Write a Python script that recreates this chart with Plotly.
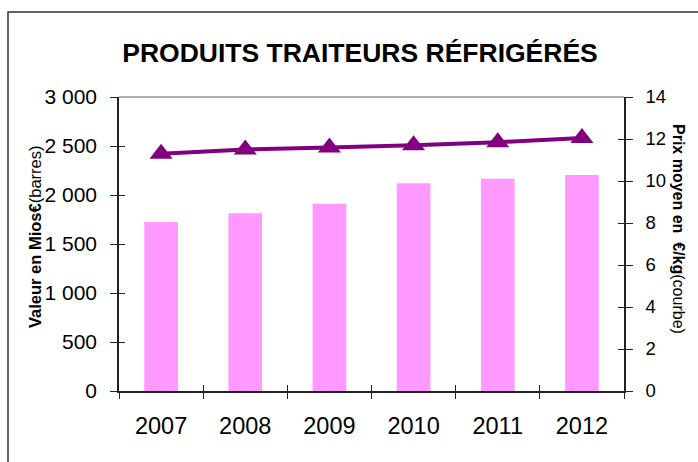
import plotly.graph_objects as go

years = ["2007", "2008", "2009", "2010", "2011", "2012"]
valeur = [1725, 1815, 1910, 2120, 2165, 2205]
prix = [11.3, 11.5, 11.6, 11.7, 11.85, 12.05]
left_ticks = [0, 500, 1000, 1500, 2000, 2500, 3000]
left_labels = ["0", "500", "1 000", "1 500", "2 000", "2 500", "3 000"]
right_ticks = [0, 2, 4, 6, 8, 10, 12, 14]

FONT = "Liberation Sans, Arial, sans-serif"
W, H = 698, 462
L, R, T, B = 119, 74, 97, 71
pw, ph = W - L - R, H - T - B

def px(xp):
    return (xp - L) / pw

def py(yp):
    return (H - B - yp) / ph

fig = go.Figure()
fig.add_trace(go.Bar(x=years, y=valeur, marker=dict(color="#FF99FF", line_width=0),
                     width=0.4, xaxis="x", yaxis="y", showlegend=False))
fig.add_trace(go.Scatter(x=years, y=prix, mode="lines+markers", xaxis="x", yaxis="y2",
                         line=dict(color="#800080", width=4),
                         marker=dict(symbol="triangle-up", size=20, color="#800080"),
                         showlegend=False))
# invisible helper traces for inner tick marks
fig.add_trace(go.Scatter(x=years, y=[0] * 6, xaxis="x2", yaxis="y3", mode="markers",
                         marker=dict(opacity=0), hoverinfo="skip", showlegend=False))
fig.add_trace(go.Scatter(x=years, y=[0] * 6, xaxis="x2", yaxis="y4", mode="markers",
                         marker=dict(opacity=0), hoverinfo="skip", showlegend=False))

axis_col = "#222222"
fig.update_layout(
    width=W, height=H,
    margin=dict(l=L, r=R, t=T, b=B),
    paper_bgcolor="white", plot_bgcolor="white",
    font=dict(family=FONT, color="black"),
    title=dict(text="<b>PRODUITS TRAITEURS RÉFRIGÉRÉS</b>", x=360 / W, xanchor="center",
               y=1 - 53 / H, yanchor="middle", font=dict(size=26.5, family=FONT)),
    xaxis=dict(type="category", categoryarray=years, range=[-0.5, 5.5],
               showline=True, linecolor=axis_col, linewidth=1.5,
               ticks="outside", ticklen=6, tickcolor=axis_col, tickson="boundaries",
               tickfont=dict(size=23.5), ticklabelstandoff=13, showgrid=False, zeroline=False),
    xaxis2=dict(type="category", categoryarray=years, range=[-0.5, 5.5], overlaying="x",
                anchor="y3", showline=False, ticks="inside", ticklen=6, tickcolor=axis_col,
                tickson="boundaries", showticklabels=False, showgrid=False, zeroline=False),
    yaxis=dict(range=[0, 3000], tickvals=left_ticks, ticktext=left_labels,
               showline=True, linecolor=axis_col, linewidth=1.5,
               ticks="outside", ticklen=7, tickcolor=axis_col,
               tickfont=dict(size=21), ticklabelstandoff=9, showgrid=False, zeroline=False),
    yaxis2=dict(range=[0, 14], tickvals=right_ticks, overlaying="y", side="right",
                showline=True, linecolor=axis_col, linewidth=1.5,
                ticks="outside", ticklen=7, tickcolor=axis_col,
                tickfont=dict(size=18.5), ticklabelstandoff=9, showgrid=False, zeroline=False),
    yaxis3=dict(range=[0, 3000], tickvals=left_ticks, overlaying="y", side="left",
                showline=False, ticks="inside", ticklen=6, tickcolor=axis_col,
                showticklabels=False, showgrid=False, zeroline=False),
    yaxis4=dict(range=[0, 14], tickvals=right_ticks, overlaying="y", side="right",
                showline=False, ticks="inside", ticklen=6, tickcolor=axis_col,
                showticklabels=False, showgrid=False, zeroline=False),
    shapes=[
        dict(type="line", xref="paper", yref="paper", x0=0, x1=1, y0=1, y1=1,
             line=dict(color="#909090", width=1.5)),
        dict(type="rect", xref="paper", yref="paper", x0=px(8), x1=px(720),
             y0=py(480), y1=py(12), line=dict(color="#333333", width=1.5),
             fillcolor="rgba(0,0,0,0)", layer="below"),
    ],
    annotations=[
        dict(text="<b>Valeur en Mios€</b>(barres)", textangle=-90, xref="paper", yref="paper",
             x=px(35), y=py(237), xanchor="center", yanchor="middle", showarrow=False,
             font=dict(size=16.5, family=FONT)),
        dict(text="<b>Prix moyen en&nbsp; €/kg</b>(courbe)", textangle=90, xref="paper", yref="paper",
             x=px(679), y=py(229), xanchor="center", yanchor="middle", showarrow=False,
             font=dict(size=16, family=FONT)),
    ],
)

fig.write_html("out.html", config={"displayModeBar": False},
               post_script="document.body.style.margin='0';document.body.style.overflow='hidden';")
